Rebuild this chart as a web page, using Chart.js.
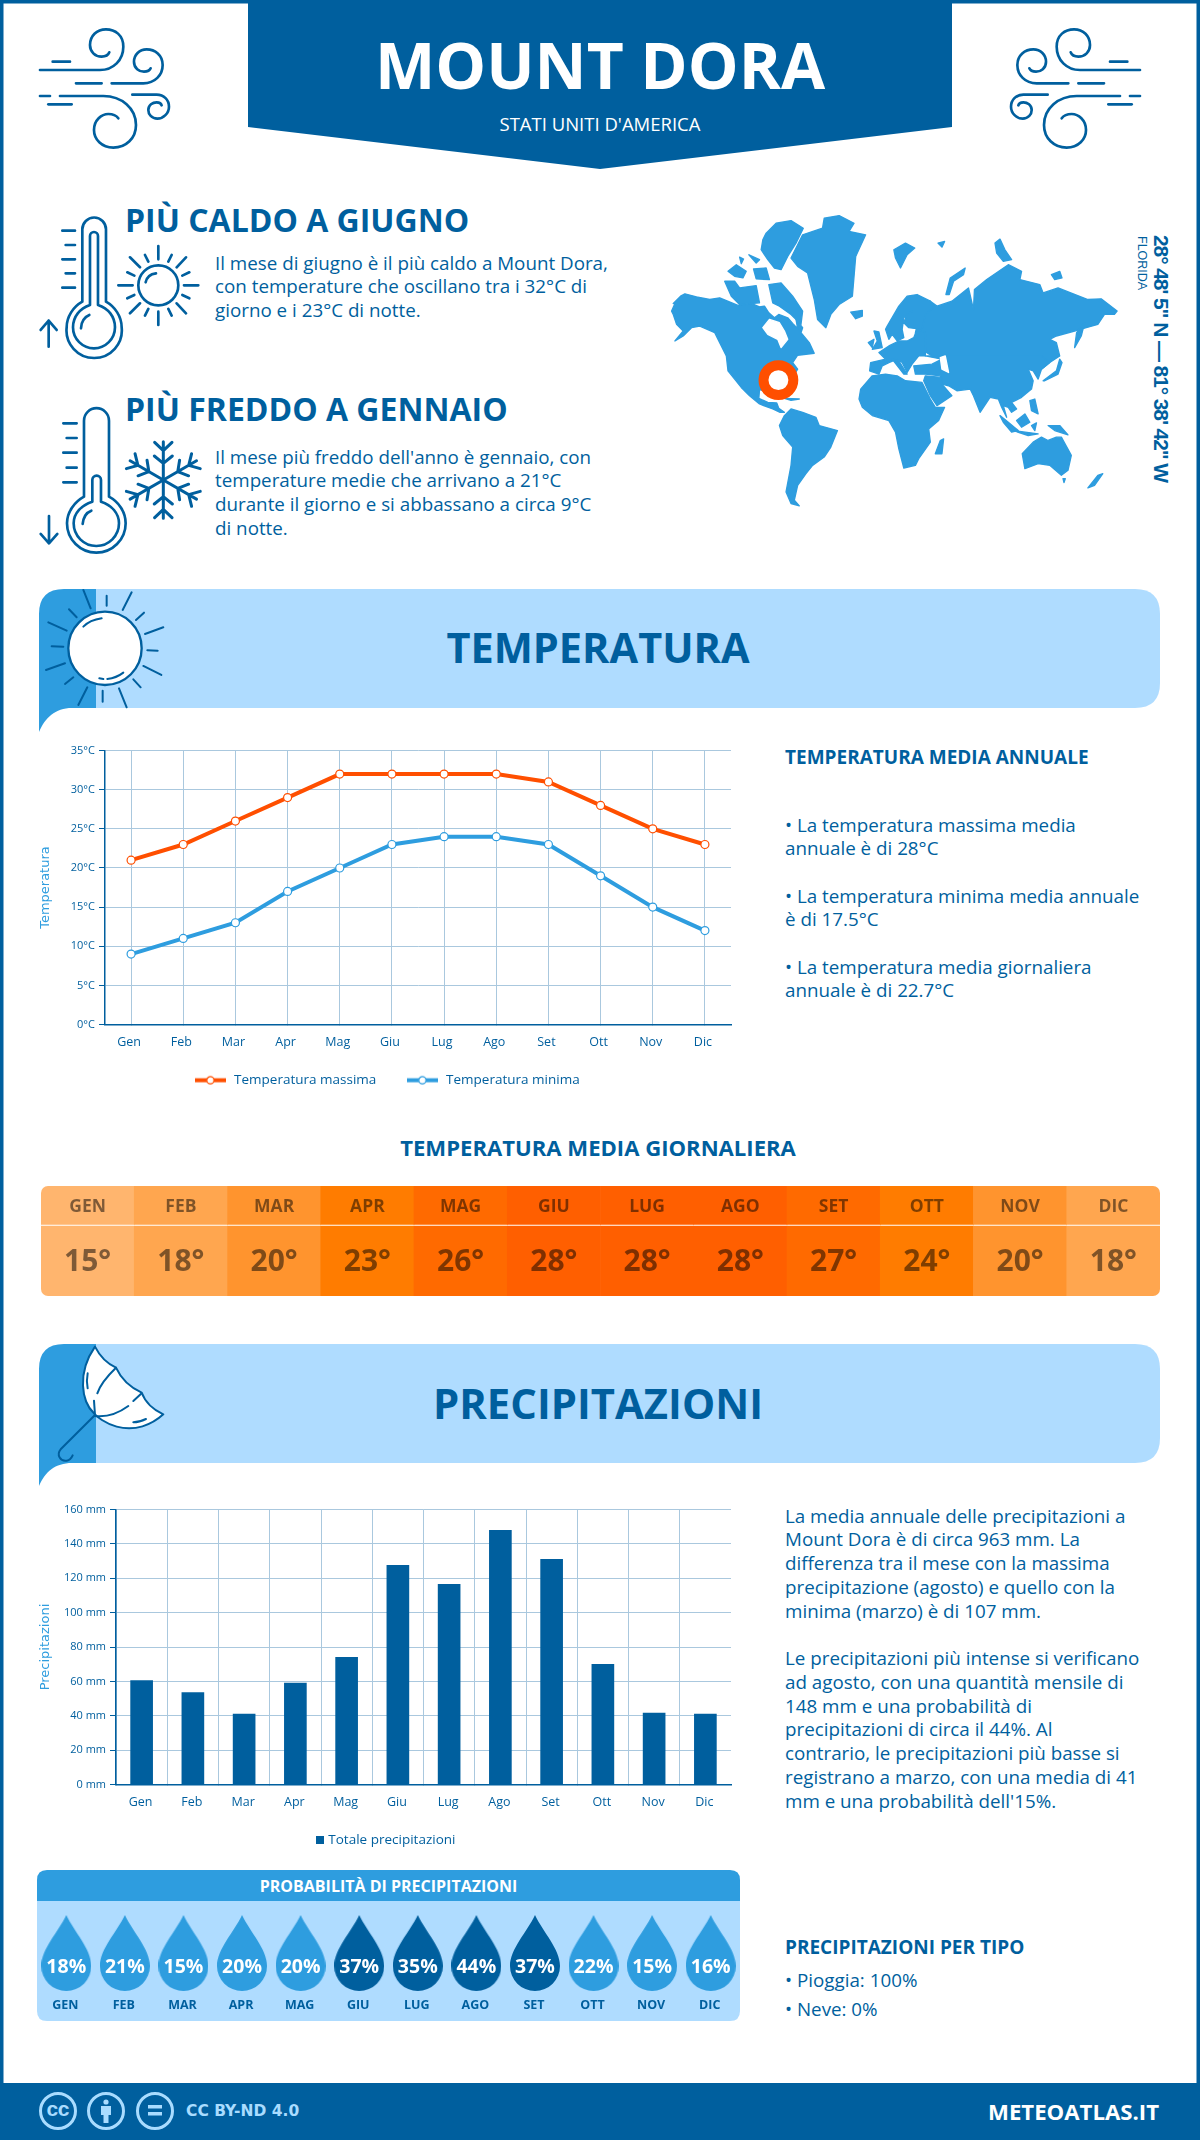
<!DOCTYPE html>
<html lang="it"><head><meta charset="utf-8"><title>Mount Dora</title>
<script src="https://cdn.jsdelivr.net/npm/chart.js@4"></script>
<style>
html,body{margin:0;padding:0;background:#fff}
#page{position:relative;width:1200px;height:2140px;overflow:hidden;font-family:"Open Sans",sans-serif;color:#005f9e}
#deco{position:absolute;left:0;top:0}
.t{position:absolute;white-space:nowrap}
.b{font-weight:700}
.p{font-size:18.8px;line-height:24px}
canvas{position:absolute;display:block}
</style></head><body>
<div id="page">
<svg id="deco" width="1200" height="2140" viewBox="0 0 1200 2140" xmlns="http://www.w3.org/2000/svg">
<defs>
<g id="wind" fill="none" stroke="#005f9e" stroke-width="8" stroke-linecap="round" transform="scale(.3333)">
<path d="M120,210H300C340,210 370,180 370,140C370,105 345,88 318,88C290,88 270,108 270,135C270,155 285,170 305,170C315,170 325,165 328,157"/>
<path d="M158,185H210M228,250H305"/>
<path d="M335,250H430C465,250 488,225 488,195C488,165 465,148 440,148C418,148 402,165 402,185C402,205 418,215 432,215C442,215 450,210 452,205"/>
<path d="M120,288H150M180,288H310C365,288 408,325 408,375C408,415 378,443 340,443C305,443 282,418 282,390C282,360 305,342 325,342C338,342 350,348 355,355"/>
<path d="M145,313H215"/>
<path d="M397,284H470C492,284 507,300 507,320C507,340 490,356 472,356C455,356 445,343 445,330C445,315 458,307 470,307C478,307 484,312 485,316"/>
</g>
<path id="arm" d="M0,0V-115M0,-88L-26,-113M0,-88L26,-113M0,-50L-27,-72M0,-50L27,-72"/>
</defs>
<rect x="0" y="0" width="1200" height="3.5" fill="#005f9e"/>
<rect x="0" y="0" width="3.5" height="2140" fill="#005f9e"/>
<rect x="1196.5" y="0" width="3.5" height="2140" fill="#005f9e"/>
<path d="M248,0H952V127L600,169L248,127Z" fill="#005f9e"/>
<use href="#wind"/>
<use href="#wind" transform="translate(1180,0) scale(-1,1)"/>

<g transform="scale(.3333)" fill="none" stroke="#005f9e" stroke-width="8" stroke-linecap="round" stroke-linejoin="round">
<path d="M247,905V688A35,35 0 0 1 318,688V905C345,920 365,950 365,982A83,83 0 1 1 200,982C200,950 220,920 247,905Z"/>
<path d="M270,915V708A12,12 0 0 1 294,708V915C325,925 345,950 345,982A63,63 0 1 1 219,982C219,950 240,925 270,915Z"/>
<path d="M243,985C243,965 255,950 268,945"/>
<path d="M187,692H225M197,735H225M187,778H225M197,820H225M187,863H225" stroke-width="8"/>
<path d="M146,1040V962M122,990L146,962L170,990"/>
<circle cx="475" cy="856" r="60"/>
<path d="M437,847C440,832 452,822 468,820"/>
<path d="M475,738V778M475,935V975M355,856H398M552,856H595M390,772L420,802M558,772L530,802M390,940L420,910M558,940L530,910M435,765L445,785M515,765L505,785M382,817L403,827M568,817L547,827M382,895L403,885M568,895L547,885M435,947L445,927M515,947L505,927"/>
</g>
<g transform="translate(20,380) scale(.3333)" fill="none" stroke="#005f9e" stroke-width="8" stroke-linecap="round" stroke-linejoin="round">
<path d="M192,350V122A37,37 0 0 1 267,122V350C295,365 317,395 317,430A88,88 0 1 1 141,430C141,395 165,365 192,350Z"/>
<path d="M217,365V300A13,13 0 0 1 243,300V365C275,375 297,400 297,430A68,68 0 1 1 161,430C161,400 185,375 217,365Z"/>
<path d="M188,432C190,412 200,397 214,392"/>
<path d="M130,130H170M140,174H170M130,218H170M140,263H170M130,307H170" stroke-width="8"/>
<path d="M87,408V490M62,462L87,490L112,462"/>
<g transform="translate(430,300)" stroke-width="9">
<use href="#arm"/><use href="#arm" transform="rotate(60)"/><use href="#arm" transform="rotate(120)"/><use href="#arm" transform="rotate(180)"/><use href="#arm" transform="rotate(240)"/><use href="#arm" transform="rotate(300)"/>
</g>
</g>

<!-- world map -->
<g transform="translate(660,200) scale(.3317)" fill="#2e9ddf" stroke="#2e9ddf" stroke-width="4" stroke-linejoin="round">
<path d="M35,335L48,305L40,312L62,290L75,283L110,292L150,300L180,295L235,318L275,312L300,322L315,320L328,340L345,355L358,345L385,355L400,372L415,388L410,360L430,385L425,400L450,430L465,462L440,465L415,468L400,490L415,510L370,580L330,580L300,572L298,598L325,610L352,612L358,628L375,640L362,640L340,630L300,615L270,590L245,565L225,540L205,515L200,470L180,430L165,400L120,380L95,385L70,410L45,425L70,395L50,375L40,345Z"/>
<path d="M320,100L350,70L395,62L432,85L410,130L385,170L365,210L345,205L325,180L305,150L310,120Z"/>
<path d="M328,255L365,250L400,290L430,335L425,375L395,345L360,320L340,310Z"/>
<path d="M195,245L225,245L240,265L290,258L300,310L240,315L215,290Z"/>
<path d="M205,215L230,195L260,215L250,235L225,230Z"/>
<path d="M282,208L320,205L330,240L290,238Z"/>
<path d="M268,165L300,180L290,190Z"/>
<path d="M240,172L252,178L245,192Z"/>
<path d="M395,175L430,105L490,85L495,55L540,47L585,70L570,95L620,105L590,170L580,290L540,315L515,345L500,385L475,360L465,300L445,220L415,200Z"/>
<path d="M575,338L610,333L610,350L590,358Z"/>
<path d="M705,150L740,130L768,145L745,165L725,205L710,175Z"/>
<path d="M838,130L858,125L850,142Z"/>
<path d="M862,285L875,235L920,205L915,225L885,245L872,285Z"/>
<path d="M1010,130L1025,118L1040,150L1060,180L1035,185L1015,160Z"/>
<path d="M1180,225L1205,215L1212,235L1190,240Z"/>
<path d="M815,305L835,320L880,305L930,265L945,330L948,270L985,240L1050,195L1090,215L1085,240L1145,255L1155,280L1200,265L1290,300L1330,298L1378,335L1370,345L1340,345L1320,375L1285,385L1250,395L1195,410L1175,420L1195,430L1205,470L1175,490L1150,510L1125,480L1000,470L880,470L820,470L780,445L770,400L780,360Z"/>
<path d="M800,470L1150,470L1175,490L1150,510L1140,540L1125,515L1110,510L1125,545L1120,570L1090,595L1060,610L1075,630L1060,640L1050,625L1035,620L1045,655L1030,625L1020,600L995,595L965,640L945,590L935,570L895,575L870,560L850,555L845,530L800,525L770,525L765,500L820,495L850,480Z"/>
<path d="M795,545L800,530L850,535L850,555L880,590L835,620L815,590Z"/>
<path d="M660,460L690,440L720,425L745,425L765,415L775,390L800,400L800,470L780,470L760,495L745,520L730,490L715,480L690,490L670,500L660,525L632,515L635,490L680,480Z"/>
<path d="M685,380L720,320L745,290L775,285L815,305L825,325L800,345L790,390L750,385L735,370L745,345L760,335L735,355L730,390L735,415L715,425L700,405L690,420L680,390Z"/>
<path d="M700,480L720,485L745,525L735,525Z"/>
<path d="M605,570L640,530L680,525L715,530L740,545L790,550L815,600L830,625L858,625L840,665L810,690L815,730L780,780L770,800L735,808L720,750L710,700L690,665L640,650L610,625L600,600Z"/>
<path d="M360,680L375,650L395,630L430,640L470,655L480,680L535,695L515,745L495,775L460,800L440,825L415,860L405,905L420,922L395,915L380,880L395,800L400,745L370,710Z"/>
<path d="M1092,765L1125,730L1150,715L1170,725L1195,715L1210,715L1240,770L1230,815L1210,830L1175,800L1140,795L1100,810Z"/>
<path d="M1290,868L1320,830L1335,825L1310,860Z"/>
<path d="M830,765L845,725L855,720L850,765Z"/>
<path d="M1155,545L1195,515L1205,480L1212,490L1200,525L1160,545Z"/>
<path d="M1250,445L1256,400L1280,370L1270,410Z"/>
<path d="M645,395L660,398L670,445L640,450L655,425Z"/>
<path d="M628,430L645,420L640,445Z"/>
<path d="M1025,650L1050,670L1080,695L1060,700L1035,670Z"/>
<path d="M1075,665L1100,645L1115,670L1090,685Z"/>
<path d="M1065,695L1140,705L1110,710Z"/>
<path d="M1120,680L1135,672L1130,695Z"/>
<path d="M1170,680L1205,680L1230,708L1190,695Z"/>
<path d="M1115,605L1130,600L1140,645L1120,635Z"/>
<path d="M375,598L420,600L395,604Z"/>
<path d="M1215,840L1222,840L1218,852Z"/>
<g fill="#fff" stroke="#fff">
<path d="M310,385L330,360L360,370L375,395L385,420L365,445L355,420L325,405Z"/>
<path d="M845,475L860,470L870,520L850,510Z"/>
</g>
<circle cx="357" cy="543" r="45" fill="#fff" stroke="#ff4f00" stroke-width="30"/>
</g>

<g>
<path d="M96,589H1135Q1160,589 1160,614V683Q1160,708 1135,708H96Z" fill="#afdcff"/>
<path d="M39,732V614Q39,589 64,589H96V708H72C55,708 45,718 39,732Z" fill="#2e9ddf"/>
<path d="M96,1344H1135Q1160,1344 1160,1369V1438Q1160,1463 1135,1463H96Z" fill="#afdcff"/>
<path d="M39,1486V1369Q39,1344 64,1344H96V1463H72C55,1463 45,1472 39,1486Z" fill="#2e9ddf"/>
</g>
<g transform="translate(20,380) scale(.3333)" fill="none" stroke="#005f9e" stroke-width="6" stroke-linecap="round">
<circle cx="255" cy="805" r="110" fill="#fff" stroke-width="7"/>
<path d="M190,740C205,725 225,718 245,715M238,895L250,897M262,897C280,895 297,888 310,878"/>
<path d="M190,630L212,685M260,647V677M335,637L308,690M147,688L170,712M372,698L348,720M85,727L140,752M430,742L375,762M95,799L130,800M382,811L413,812M78,870L135,850M370,858L424,885M135,912L160,892M362,922L340,898M175,975L202,922M248,965V932M320,982L297,925"/>
</g>
<g transform="translate(20,1330) scale(.3333)" fill="none" stroke="#005f9e" stroke-width="6" stroke-linecap="round" stroke-linejoin="round">
<path fill="#fff" d="M225,50C240,80 260,100 288,113C305,150 330,172 365,188C375,215 400,240 430,253C395,285 345,305 290,290C255,280 230,260 222,250C185,215 170,130 225,50Z"/>
<path d="M288,113C260,140 240,165 232,190M222,212L225,255M225,258C260,262 295,250 325,228M340,213L365,190M203,130C200,145 200,160 203,175M340,277C355,277 368,272 378,267M225,255L122,358C108,375 122,395 140,392C150,390 155,383 158,376"/>
</g>

<path d="M37,1880Q37,1870 47,1870H730Q740,1870 740,1880V1901H37Z" fill="#2e9ddf"/>
<path d="M37,1901H740V2011Q740,2021 730,2021H47Q37,2021 37,2011Z" fill="#afdcff"/>

<rect x="0" y="2083" width="1200" height="57" fill="#005f9e"/>
<g fill="none" stroke="#a9dcff" stroke-width="3">
<circle cx="58" cy="2111" r="17.5"/><circle cx="106" cy="2111" r="17.5"/><circle cx="155" cy="2111" r="17.5"/>
</g>
<g fill="#a9dcff">
<circle cx="106" cy="2102" r="2.6"/>
<path d="M101,2106H111V2115H108.5V2123H103.5V2115H101Z"/>
<rect x="148" y="2105" width="14" height="3.5"/><rect x="148" y="2112" width="14" height="3.5"/>
</g>
</svg>

<div class="t b" style="left:0;width:1200px;text-align:center;top:20px;font-size:64px;line-height:90px;color:#fff">MOUNT DORA</div>
<div class="t" style="left:0;width:1200px;text-align:center;top:110px;font-size:18.5px;line-height:28px;color:#fff">STATI UNITI D'AMERICA</div>

<div class="t b" style="left:125px;top:198px;font-size:32px;line-height:44px">PIÙ CALDO A GIUGNO</div>
<div class="t p" style="left:215px;top:251px">Il mese di giugno è il più caldo a Mount Dora,</div>
<div class="t p" style="left:215px;top:274px">con temperature che oscillano tra i 32°C di</div>
<div class="t p" style="left:215px;top:298px">giorno e i 23°C di notte.</div>

<div class="t b" style="left:125px;top:387px;font-size:32px;line-height:44px">PIÙ FREDDO A GENNAIO</div>
<div class="t p" style="left:215px;top:445px">Il mese più freddo dell'anno è gennaio, con</div>
<div class="t p" style="left:215px;top:468px">temperature medie che arrivano a 21°C</div>
<div class="t p" style="left:215px;top:492px">durante il giorno e si abbassano a circa 9°C</div>
<div class="t p" style="left:215px;top:516px">di notte.</div>

<div class="t" style="left:1161px;top:235px;transform-origin:0 0;transform:rotate(90deg) translateY(-50%);font-family:'Liberation Sans',sans-serif;font-weight:700;font-size:21px;line-height:26px;letter-spacing:-1.1px">28° 48' 5" N — 81° 38' 42" W</div>
<div class="t" style="left:1142px;top:236px;transform-origin:0 0;transform:rotate(90deg) translateY(-50%);font-family:'Liberation Sans',sans-serif;font-size:12.5px;line-height:16px">FLORIDA</div>

<div class="t b" style="left:0;width:1196px;text-align:center;top:618px;font-size:41.5px;line-height:58px">TEMPERATURA</div>
<div class="t b" style="left:785px;top:744px;font-size:19px;line-height:26px">TEMPERATURA MEDIA ANNUALE</div>
<div class="t p" style="left:785px;top:813px">• La temperatura massima media</div>
<div class="t p" style="left:785px;top:836px">annuale è di 28°C</div>
<div class="t p" style="left:785px;top:884px">• La temperatura minima media annuale</div>
<div class="t p" style="left:785px;top:907px">è di 17.5°C</div>
<div class="t p" style="left:785px;top:955px">• La temperatura media giornaliera</div>
<div class="t p" style="left:785px;top:978px">annuale è di 22.7°C</div>
<div class="t b" style="left:0;width:1196px;text-align:center;top:1131px;font-size:22.1px;line-height:32px">TEMPERATURA MEDIA GIORNALIERA</div>

<div class="t b" style="left:0;width:1196px;text-align:center;top:1374px;font-size:41.8px;line-height:58px">PRECIPITAZIONI</div>
<div class="t p" style="left:785px;top:1504px">La media annuale delle precipitazioni a</div>
<div class="t p" style="left:785px;top:1527px">Mount Dora è di circa 963 mm. La</div>
<div class="t p" style="left:785px;top:1551px">differenza tra il mese con la massima</div>
<div class="t p" style="left:785px;top:1575px">precipitazione (agosto) e quello con la</div>
<div class="t p" style="left:785px;top:1599px">minima (marzo) è di 107 mm.</div>
<div class="t p" style="left:785px;top:1646px">Le precipitazioni più intense si verificano</div>
<div class="t p" style="left:785px;top:1670px">ad agosto, con una quantità mensile di</div>
<div class="t p" style="left:785px;top:1694px">148 mm e una probabilità di</div>
<div class="t p" style="left:785px;top:1717px">precipitazioni di circa il 44%. Al</div>
<div class="t p" style="left:785px;top:1741px">contrario, le precipitazioni più basse si</div>
<div class="t p" style="left:785px;top:1765px">registrano a marzo, con una media di 41</div>
<div class="t p" style="left:785px;top:1789px">mm e una probabilità dell'15%.</div>

<div class="t b" style="left:37px;width:703px;text-align:center;top:1872px;font-size:16px;line-height:28px;color:#fff">PROBABILITÀ DI PRECIPITAZIONI</div>
<div class="t b" style="left:785px;top:1934px;font-size:19px;line-height:26px">PRECIPITAZIONI PER TIPO</div>
<div class="t p" style="left:785px;top:1968px">• Pioggia: 100%</div>
<div class="t p" style="left:785px;top:1997px">• Neve: 0%</div>

<div class="t" style="left:46.5px;top:2099px;font-family:'Liberation Sans',sans-serif;font-weight:700;font-size:21px;line-height:20px;color:#a9dcff;letter-spacing:-.5px">cc</div>
<div class="t" style="left:186px;top:2100px;font-family:'DejaVu Sans',sans-serif;font-weight:700;font-size:15.5px;line-height:22px;color:#a9dcff">CC BY-ND 4.0</div>
<div class="t b" style="right:41px;top:2095px;font-size:22.2px;line-height:34px;color:#fff">METEOATLAS.IT</div>

<canvas id="cTemp" width="756" height="357" style="left:20px;top:740px"></canvas>
<canvas id="cHeat" width="1119" height="110" style="left:41px;top:1186px;border-radius:7px"></canvas>
<canvas id="cRain" width="756" height="358" style="left:20px;top:1499px"></canvas>
<canvas id="cProb" width="703" height="120" style="left:37px;top:1901px"></canvas>
</div>
<script>
const monthsShort = ["Gen","Feb","Mar","Apr","Mag","Giu","Lug","Ago","Set","Ott","Nov","Dic"];
const monthsUpper = ["GEN","FEB","MAR","APR","MAG","GIU","LUG","AGO","SET","OTT","NOV","DIC"];
const tempMax = [21,23,26,29,32,32,32,32,31,28,25,23];
const tempMin = [9,11,13,17,20,23,24,24,23,19,15,12];
const tempMean = [15,18,20,23,26,28,28,28,27,24,20,18];
const rainTotal = [60.5,53.5,41,59,74,127.5,116.5,148,131,70,41.5,41];
const rainChance = [18,21,15,20,20,37,35,44,37,22,15,16];

const BLUE="#005f9e", LIGHT="#2e9ddf", ORANGE="#ff4f00", GRID="#aac8de";
const OS='"Open Sans",sans-serif';
Chart.defaults.animation=false;
Chart.defaults.responsive=false;
Chart.defaults.font.family=OS;
Chart.defaults.color=BLUE;
Chart.defaults.plugins.tooltip.enabled=false;

function legendMark(col){
  const c=document.createElement("canvas");c.width=31;c.height=11;
  const g=c.getContext("2d");
  g.fillStyle=col;g.fillRect(0,3.5,31,4);
  g.beginPath();g.arc(15.5,5.5,3.6,0,Math.PI*2);g.fillStyle="#fff";g.fill();g.lineWidth=1.2;g.strokeStyle=col;g.stroke();
  return c;
}
function squareMark(){
  const c=document.createElement("canvas");c.width=8;c.height=8;
  const g=c.getContext("2d");g.fillStyle=BLUE;g.fillRect(0,0,8,8);return c;
}
function axisY(title,maxV,step,suffix,w){
  return {min:0,max:maxV,afterFit:s=>{s.width=w},
    border:{color:BLUE,width:1.5},
    grid:{color:GRID,lineWidth:1,tickColor:BLUE,tickLength:6},
    ticks:{stepSize:step,font:{size:11},padding:4,callback:v=>v+suffix},
    title:{display:true,text:title,color:LIGHT,font:{family:'"DejaVu Sans",sans-serif',size:13},padding:{top:-4,bottom:0}}};
}
new Chart(document.getElementById("cTemp"),{type:"line",
  data:{labels:monthsShort,datasets:[
    {label:"Temperatura massima",data:tempMax,borderColor:ORANGE,backgroundColor:"#fff",borderWidth:4,pointRadius:4,pointBorderWidth:1.2,pointBorderColor:ORANGE,pointBackgroundColor:"#fff",tension:0},
    {label:"Temperatura minima",data:tempMin,borderColor:LIGHT,backgroundColor:"#fff",borderWidth:4,pointRadius:4,pointBorderWidth:1.2,pointBorderColor:LIGHT,pointBackgroundColor:"#fff",tension:0}]},
  options:{layout:{autoPadding:false,padding:{top:10,right:45,left:22,bottom:0}},
    scales:{x:{offset:true,afterFit:s=>{s.height=20},border:{color:BLUE,width:1.5},
        grid:{offset:false,color:GRID,lineWidth:1,tickLength:0},
        ticks:{mirror:true,font:{size:12.5},padding:-25.5,labelOffset:-2,maxRotation:0}},
      y:axisY("Temperatura",35,5,"°C",63)},
    plugins:{legend:{position:"bottom",labels:{usePointStyle:true,pointStyleWidth:34,padding:29,font:{size:13.5},color:BLUE,
      generateLabels:ch=>ch.data.datasets.map((d,i)=>({text:d.label,pointStyle:legendMark(d.borderColor),datasetIndex:i,fontColor:BLUE,hidden:false,lineWidth:0,strokeStyle:"transparent",fillStyle:"transparent"}))}}}}});

function heatColour(t){
  if(t>=28)return"#ff5f00"; if(t>=26)return"#ff6a00"; if(t>=23)return"#ff7c00";
  if(t>=20)return"#ff942e"; if(t>=18)return"#ffa64f"; return"#ffb56e";
}
const heatText={id:"heatText",afterDatasetsDraw(ch){
  const g=ch.ctx,x=ch.scales.x,y=ch.scales.y;
  g.save();g.textAlign="center";g.textBaseline="middle";g.fillStyle="rgba(0,0,0,.5)";
  monthsUpper.forEach((m,i)=>{
    g.font='700 17.5px '+OS;g.fillText(m,x.getPixelForValue(i),y.getPixelForValue(89));
    g.font='700 30px '+OS;g.fillText(tempMean[i]+"°",x.getPixelForValue(i),y.getPixelForValue(34));
  });g.restore();}};
new Chart(document.getElementById("cHeat"),{type:"bar",plugins:[heatText],
  data:{labels:monthsUpper,datasets:[
    {data:tempMean.map(()=>[0,70]),backgroundColor:tempMean.map(heatColour),borderWidth:0,categoryPercentage:1,barPercentage:1,grouped:false},
    {data:tempMean.map(()=>[71.5,110]),backgroundColor:tempMean.map(heatColour),borderWidth:0,categoryPercentage:1,barPercentage:1,grouped:false}]},
  options:{layout:{padding:0},plugins:{legend:{display:false}},
    scales:{x:{display:false},y:{display:false,min:0,max:110}}}});

new Chart(document.getElementById("cRain"),{type:"bar",
  data:{labels:monthsShort,datasets:[{label:"Totale precipitazioni",data:rainTotal,backgroundColor:BLUE,barThickness:22}]},
  options:{layout:{autoPadding:false,padding:{top:10,right:45,left:22,bottom:0}},
    scales:{x:{afterFit:s=>{s.height=37},border:{color:BLUE,width:1.5},
        grid:{color:c=>c.tick?GRID:"transparent",lineWidth:1,tickLength:0},
        ticks:{font:{size:12.5},padding:10,labelOffset:-1,maxRotation:0}},
      y:axisY("Precipitazioni",160,20," mm",74)},
    plugins:{legend:{position:"bottom",labels:{usePointStyle:true,pointStyleWidth:4,padding:12,font:{size:13.5},color:BLUE,
      generateLabels:ch=>[{text:ch.data.datasets[0].label,pointStyle:squareMark(),datasetIndex:0,fontColor:BLUE,hidden:false,lineWidth:0,strokeStyle:"transparent",fillStyle:"transparent"}]}}}}});

function dropMark(col){
  const c=document.createElement("canvas");c.width=50;c.height=76;
  const g=c.getContext("2d");
  g.beginPath();g.moveTo(25,0);g.bezierCurveTo(33,17,50,34,50,51);g.arc(25,51,25,0,Math.PI);g.bezierCurveTo(0,34,17,17,25,0);g.closePath();
  g.fillStyle=col;g.fill();return c;
}
const dropLight=dropMark(LIGHT),dropDark=dropMark(BLUE);
const dropText={id:"dropText",afterDatasetsDraw(ch){
  const g=ch.ctx;g.save();g.textAlign="center";g.textBaseline="middle";g.fillStyle="#fff";g.font='700 19.5px '+OS;
  ch.getDatasetMeta(0).data.forEach((p,i)=>g.fillText(rainChance[i]+"%",p.x,p.y+14));g.restore();}};
new Chart(document.getElementById("cProb"),{type:"line",plugins:[dropText],
  data:{labels:monthsUpper,datasets:[{data:rainChance.map(()=>1),showLine:false,clip:false,
    pointStyle:rainChance.map(v=>v>=35?dropDark:dropLight)}]},
  options:{layout:{autoPadding:false,padding:{top:12,bottom:0,left:0,right:0}},plugins:{legend:{display:false}},
    scales:{y:{display:false,min:0,max:2},
      x:{offset:true,afterFit:s=>{s.height=28},border:{display:false},grid:{display:false,drawTicks:false},
        ticks:{font:{size:12.5,weight:"700"},padding:5,labelOffset:-1,maxRotation:0,autoSkip:false}}}}});
</script>
</body></html>
